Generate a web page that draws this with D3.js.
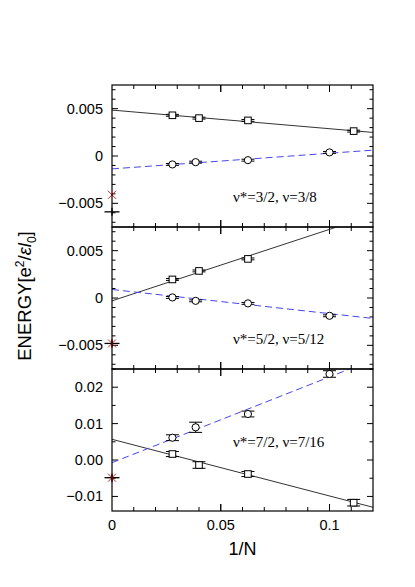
<!DOCTYPE html>
<html>
<head>
<meta charset="utf-8">
<script src="https://cdn.jsdelivr.net/npm/d3@7"></script>
<style>
body { margin: 0; background: #fff; }
svg text { font-family: Arial, "Liberation Sans", sans-serif; }
</style>
</head>
<body>
<div id="chart"></div>
<script>
// ---- data ----
const xDomain = [0, 0.12];
const xMajor = [0, 0.05, 0.1];
const xLabels = ["0", "0.05", "0.1"];
const fitX = [0, 0.12];

// panel 1 : nu*=3/2, nu=3/8
const p1SqX = [1/36, 1/25, 1/16, 1/9];
const p1SqY = [0.0043, 0.0040, 0.00376, 0.00263];
const p1SqErr = [0.0001, 0.0001, 0.0001, 0.0001];
const p1CiX = [1/36, 1/26, 1/16, 1/10];
const p1CiY = [-0.00089, -0.00065, -0.00044, 0.00038];
const p1CiErr = [0.0001, 0.0001, 0.0001, 0.0001];
const p1Solid = [0.00485, 0.00249];
const p1Dash = [-0.00136, 0.00062];
const p1Red = -0.0041;
const p1Black = -0.0059;

// panel 2 : nu*=5/2, nu=5/12
const p2SqX = [1/36, 1/25, 1/16];
const p2SqY = [0.00196, 0.00286, 0.00413];
const p2SqErr = [0.0001, 0.0001, 0.0001];
const p2CiX = [1/36, 1/26, 1/16, 1/10];
const p2CiY = [0.00006, -0.0003, -0.00057, -0.00188];
const p2CiErr = [0.0001, 0.0001, 0.0001, 0.0001];
const p2Solid = [-0.0003, 0.00876];
const p2Dash = [0.0009, -0.00216];
const p2Red = -0.0048;
const p2Black = -0.0048;

// panel 3 : nu*=7/2, nu=7/16
const p3SqX = [1/36, 1/25, 1/16, 1/9];
const p3SqY = [0.00165, -0.00137, -0.00384, -0.01172];
const p3SqErr = [0.0007, 0.0009, 0.0007, 0.0009];
const p3CiX = [1/36, 1/26, 1/16, 1/10];
const p3CiY = [0.00613, 0.00899, 0.01264, 0.02363];
const p3CiErr = [0.0008, 0.0014, 0.0008, 0.0009];
const p3Solid = [0.00569, -0.01298];
const p3Dash = [-0.00073, 0.02754];
const p3Red = -0.00485;
const p3Black = -0.00485;

const yTicks12 = [-0.005, 0, 0.005];
const yLabels12 = ["\u22120.005", "0", "0.005"];
const yTicks3 = [-0.01, 0, 0.01, 0.02];
const yLabels3 = ["\u22120.01", "0.00", "0.01", "0.02"];

const panels = [
  { top: 85, bottom: 227, domain: [-0.0075, 0.0075], ticks: yTicks12, labels: yLabels12, minorStep: 0.001,
    sqX: p1SqX, sqY: p1SqY, sqErr: p1SqErr, ciX: p1CiX, ciY: p1CiY, ciErr: p1CiErr,
    solid: p1Solid, dash: p1Dash, red: p1Red, black: p1Black, note: "\u03bd*=3/2, \u03bd=3/8", noteY: 202 },
  { top: 227, bottom: 369, domain: [-0.0075, 0.0075], ticks: yTicks12, labels: yLabels12, minorStep: 0.001,
    sqX: p2SqX, sqY: p2SqY, sqErr: p2SqErr, ciX: p2CiX, ciY: p2CiY, ciErr: p2CiErr,
    solid: p2Solid, dash: p2Dash, red: p2Red, black: p2Black, note: "\u03bd*=5/2, \u03bd=5/12", noteY: 344 },
  { top: 369, bottom: 511, domain: [-0.014, 0.025], ticks: yTicks3, labels: yLabels3, minorStep: 0.005,
    sqX: p3SqX, sqY: p3SqY, sqErr: p3SqErr, ciX: p3CiX, ciY: p3CiY, ciErr: p3CiErr,
    solid: p3Solid, dash: p3Dash, red: p3Red, black: p3Black, note: "\u03bd*=7/2, \u03bd=7/16", noteY: 447 }
];

const W = 415, H = 587;
const left = 112, right = 373;
const lineCol = "#333";
const blue = "#4646f0";

let svg = d3.select("#chart").append("svg").attr("width", W).attr("height", H);

let x = d3.scaleLinear().domain(xDomain).range([left, right]);
let xMinor = d3.range(0.01, 0.1150, 0.01);

panels.forEach((p, i) => {
  let y = d3.scaleLinear().domain(p.domain).range([p.bottom, p.top]);
  let g = svg.append("g");

  g.append("clipPath").attr("id", "clip" + i)
    .append("rect").attr("x", left).attr("y", p.top)
    .attr("width", right - left).attr("height", p.bottom - p.top);

  // y ticks, inward on both sides
  let lo = Math.ceil(p.domain[0] / p.minorStep - 1e-6);
  let hi = Math.floor(p.domain[1] / p.minorStep + 1e-6);
  let minorY = d3.range(lo, hi + 1).map(k => k * p.minorStep);
  minorY.forEach(v => {
    let major = p.ticks.some(t => Math.abs(t - v) < 1e-9);
    let len = major ? 6 : 3.5;
    g.append("line").attr("x1", left).attr("x2", left + len)
      .attr("y1", y(v)).attr("y2", y(v)).attr("stroke", "#000");
    g.append("line").attr("x1", right).attr("x2", right - len)
      .attr("y1", y(v)).attr("y2", y(v)).attr("stroke", "#000");
  });
  p.ticks.forEach((t, k) => {
    g.append("text").attr("x", 103).attr("y", y(t))
      .attr("text-anchor", "end").attr("dominant-baseline", "central")
      .style("font-size", "14.5px").text(p.labels[k]);
  });

  // x ticks, inward top and bottom
  xMinor.concat(xMajor.slice(1)).forEach(v => {
    let major = xMajor.some(t => Math.abs(t - v) < 1e-9);
    let len = major ? 7 : 4;
    g.append("line").attr("x1", x(v)).attr("x2", x(v))
      .attr("y1", p.bottom).attr("y2", p.bottom - len).attr("stroke", "#000");
    g.append("line").attr("x1", x(v)).attr("x2", x(v))
      .attr("y1", p.top).attr("y2", p.top + len).attr("stroke", "#000");
  });

  // fit lines
  let line = d3.line().x(d => x(d[0])).y(d => y(d[1]));
  g.append("path").attr("d", line(d3.zip(fitX, p.solid)))
    .attr("clip-path", "url(#clip" + i + ")")
    .attr("fill", "none").attr("stroke", lineCol).attr("stroke-width", 1);
  g.append("path").attr("d", line(d3.zip(fitX, p.dash)))
    .attr("clip-path", "url(#clip" + i + ")")
    .attr("fill", "none").attr("stroke", blue).attr("stroke-width", 1)
    .attr("stroke-dasharray", "7,4");

  // error bars
  function errBars(xs, ys, es) {
    xs.forEach((xv, k) => {
      let cx = x(xv), y1 = y(ys[k] - es[k]), y2 = y(ys[k] + es[k]);
      g.append("line").attr("x1", cx).attr("x2", cx).attr("y1", y1).attr("y2", y2).attr("stroke", "#000");
      [y1, y2].forEach(yy => g.append("line").attr("x1", cx - 6.5).attr("x2", cx + 6.5)
        .attr("y1", yy).attr("y2", yy).attr("stroke", "#000"));
    });
  }
  errBars(p.sqX, p.sqY, p.sqErr);
  errBars(p.ciX, p.ciY, p.ciErr);

  g.selectAll(".sq").data(d3.zip(p.sqX, p.sqY)).enter().append("rect")
    .attr("x", d => x(d[0]) - 3.3).attr("y", d => y(d[1]) - 3.3)
    .attr("width", 6.6).attr("height", 6.6)
    .attr("fill", "#fff").attr("stroke", "#000");
  g.selectAll(".ci").data(d3.zip(p.ciX, p.ciY)).enter().append("circle")
    .attr("cx", d => x(d[0])).attr("cy", d => y(d[1])).attr("r", 3.6)
    .attr("fill", "#fff").attr("stroke", "#000");

  // black plus and red cross at 1/N = 0
  let bx = x(0), by = y(p.black);
  g.append("line").attr("x1", bx - 7.5).attr("x2", bx + 7.5).attr("y1", by).attr("y2", by)
    .attr("stroke", "#000").attr("stroke-width", 1.3);
  g.append("line").attr("x1", bx).attr("x2", bx).attr("y1", by - 4).attr("y2", by + 4)
    .attr("stroke", "#000").attr("stroke-width", 1.3);
  let rx = x(0), ry = y(p.red);
  g.append("path").attr("d", `M${rx-4},${ry-4}L${rx+4},${ry+4}M${rx-4},${ry+4}L${rx+4},${ry-4}`)
    .attr("stroke", "#e02020").attr("stroke-width", 1);

  // frame
  g.append("rect").attr("x", left).attr("y", p.top)
    .attr("width", right - left).attr("height", p.bottom - p.top)
    .attr("fill", "none").attr("stroke", "#000").attr("stroke-width", 1.2);

  g.append("text").attr("x", 233).attr("y", p.noteY)
    .style("font-family", "'Liberation Serif', 'Times New Roman', serif")
    .style("font-size", "15px").text(p.note);
});

// x tick labels
xMajor.forEach((v, k) => {
  svg.append("text").attr("x", x(v)).attr("y", 530)
    .attr("text-anchor", "middle").style("font-size", "14.5px").text(xLabels[k]);
});

svg.append("text").attr("x", x(0.06)).attr("y", 555)
  .attr("text-anchor", "middle").style("font-size", "18px").text("1/N");

let yl = svg.append("text").attr("transform", "translate(31,296) rotate(-90)")
  .attr("text-anchor", "middle").style("font-size", "18.5px");
yl.append("tspan").text("ENERGY[e");
yl.append("tspan").attr("dy", -7).style("font-size", "12px").text("2");
yl.append("tspan").attr("dy", 7).text("/");
yl.append("tspan").style("font-style", "italic").text("\u03b5l");
yl.append("tspan").attr("dy", 5).style("font-size", "12px").text("0");
yl.append("tspan").attr("dy", -5).text("]");
</script>
</body>
</html>
